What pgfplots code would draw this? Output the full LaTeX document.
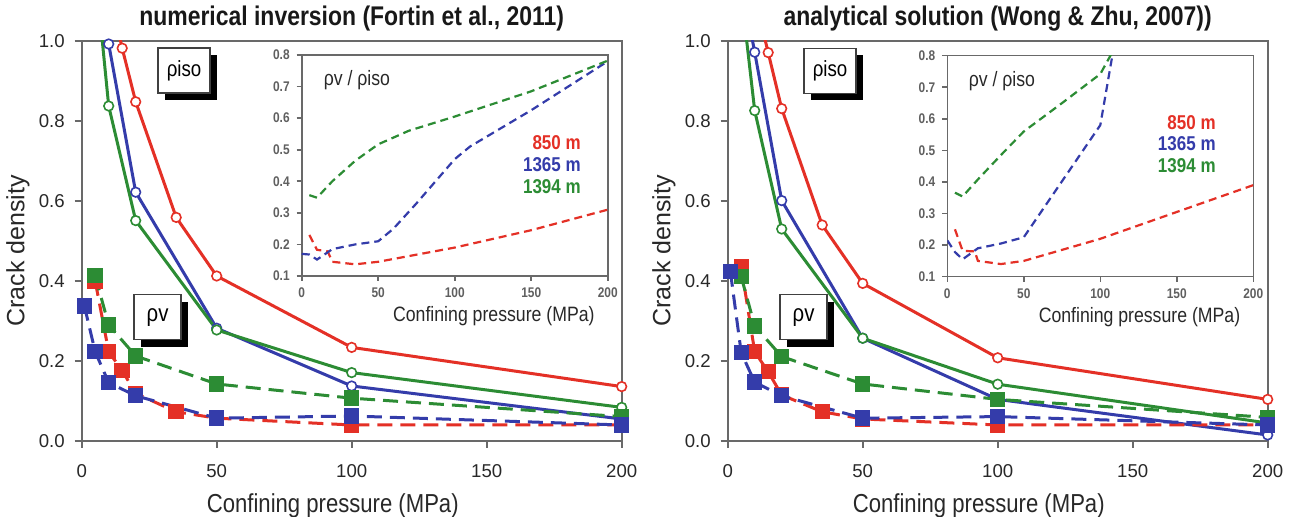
\documentclass[border=0pt]{standalone}
\usepackage{fontspec}
\setmainfont[FakeStretch=0.85]{Liberation Sans}
\newfontfamily\plainsans{Liberation Sans}
\usepackage{pgfplots}
\pgfplotsset{compat=1.18}
\usetikzlibrary{shadows}
\definecolor{cred}{RGB}{228,48,38}
\definecolor{cblue}{RGB}{52,60,170}
\definecolor{cgreen}{RGB}{44,140,52}
\definecolor{axgray}{RGB}{105,105,105}
\definecolor{txtgray}{RGB}{40,40,40}
\tikzset{
  labbox/.style={draw=black!75, line width=0.6pt, fill=white, inner sep=0pt,
    drop shadow={shadow xshift=3.5pt, shadow yshift=-3.5pt, fill=black, opacity=1}},
  ptitle/.style={anchor=base, font=\bfseries\fontsize{13.5}{16}\selectfont, text=txtgray!60!black},
}
\pgfplotsset{
  mainax/.style={scale only axis, width=270pt, height=200pt,
    xmin=0, xmax=200, ymin=0, ymax=1,
    xtick={0,50,100,150,200}, ytick={0,0.2,0.4,0.6,0.8,1.0},
    yticklabel style={/pgf/number format/.cd, fixed, fixed zerofill, precision=1},
    /pgf/number format/assume math mode=true,
    tick align=outside, xtick pos=bottom, ytick pos=left,
    axis line style={axgray, line width=1pt},
    tick style={axgray, line width=1pt}, major tick length=3.5pt,
    ticklabel style={font=\plainsans\fontsize{9.3}{11}\selectfont, text=txtgray},
    xticklabel shift=4.5pt, yticklabel shift=1.5pt,
    label style={font=\fontsize{13}{15}\selectfont, text=txtgray},
    xlabel style={at={(axis description cs:0.465,-0.1625)}, anchor=center},
    ylabel style={font=\plainsans\fontsize{12.5}{14}\selectfont, at={(axis description cs:-0.118,0.475)}, anchor=center},
  },
  insetax/.style={scale only axis, width=153pt, height=110.5pt,
    xmin=0, xmax=200, ymin=0.1, ymax=0.8,
    xtick={0,50,100,150,200}, ytick={0.1,0.2,0.3,0.4,0.5,0.6,0.7,0.8},
    yticklabel style={/pgf/number format/.cd, fixed, fixed zerofill, precision=1},
    /pgf/number format/assume math mode=true,
    tick align=outside, xtick pos=bottom, ytick pos=left,
    axis background/.style={fill=white},
    axis line style={axgray, line width=0.8pt},
    tick style={axgray, line width=0.8pt}, major tick length=2.5pt,
    ticklabel style={font=\bfseries\fontsize{7}{8}\selectfont, text=axgray!90!black},
    xlabel style={font=\fontsize{10.4}{12}\selectfont, text=txtgray, at={(axis description cs:0.628,-0.181)}, anchor=center},
  },
  isoline/.style={line width=1.5pt, mark=*, mark size=2.4pt, mark options={fill=white, line width=0.8pt, solid}},
  vline/.style={line width=1.5pt, dash pattern=on 7.5pt off 4pt, mark=square*, mark size=3.1pt, mark options={solid}},
  rline/.style={line width=1.1pt, dash pattern=on 4pt off 2.5pt},
}
\begin{document}
\begin{tikzpicture}
\useasboundingbox (0,0) rectangle (646pt,258.5pt);
% ---------------- left main
\begin{axis}[mainax, name=L, at={(40.85pt,38pt)}, anchor=south west,
  xlabel={Confining pressure (MPa)}, ylabel={Crack density}]
\addplot[isoline, cred] coordinates {(10,1.13) (15,0.982) (20,0.848) (35,0.559) (50,0.4125) (100,0.234) (200,0.136)};
\addplot[isoline, cblue] coordinates {(5,1.25) (10,0.9925) (20,0.622) (50,0.282) (100,0.1375) (200,0.055)};
\addplot[isoline, cgreen] coordinates {(5,1.18) (10,0.8375) (20,0.551) (50,0.2775) (100,0.171) (200,0.084)};
\addplot[vline, cred] coordinates {(5,0.40) (10,0.223) (15,0.176) (20,0.119) (35,0.073) (50,0.057) (100,0.04) (200,0.04)};
\addplot[vline, cgreen] coordinates {(5,0.413) (10,0.29) (20,0.2125) (50,0.1425) (100,0.107) (200,0.061)};
\addplot[vline, cblue] coordinates {(1,0.3375) (5,0.223) (10,0.146) (20,0.113) (50,0.057) (100,0.0625) (200,0.04)};
\node[labbox, minimum width=26pt, minimum height=22.5pt, font=\fontsize{11}{13}\selectfont] at (axis cs:37.9,0.926) {ρiso};
\node[labbox, minimum width=23.5pt, minimum height=22.5pt, font=\fontsize{12}{14}\selectfont] at (axis cs:28.1,0.309) {ρv};
\end{axis}
\node[ptitle] at ([yshift=7.65pt]L.north) {numerical inversion (Fortin et al., 2011)};
% ---------------- left inset
\begin{axis}[insetax, at={(150.85pt,120.5pt)}, anchor=south west,
  xlabel={Confining pressure (MPa)}]
\addplot[rline, cred] coordinates {(5,0.23) (10,0.183) (17,0.178) (20,0.145) (35,0.137) (50,0.145) (100,0.19) (150,0.245) (200,0.31)};
\addplot[rline, cblue] coordinates {(0,0.17) (5,0.168) (10,0.152) (20,0.185) (35,0.2) (50,0.21) (60,0.25) (75,0.33) (100,0.47) (110,0.51) (150,0.625) (200,0.78)};
\addplot[rline, cgreen] coordinates {(5,0.356) (10,0.348) (20,0.40) (35,0.465) (50,0.517) (70,0.56) (100,0.605) (150,0.685) (200,0.782)};
\node[anchor=west, font=\fontsize{10.4}{12}\selectfont, text=txtgray] at (axis cs:9.8,0.72) {ρv / ρiso};
\node[anchor=east, font=\bfseries\fontsize{10}{12}\selectfont, text=cred] at (axis cs:187,0.521) {850 m};
\node[anchor=east, font=\bfseries\fontsize{10}{12}\selectfont, text=cblue] at (axis cs:187,0.452) {1365 m};
\node[anchor=east, font=\bfseries\fontsize{10}{12}\selectfont, text=cgreen] at (axis cs:187,0.382) {1394 m};
\end{axis}
% ---------------- right main
\begin{axis}[mainax, name=R, at={(363.85pt,38pt)}, anchor=south west,
  xlabel={Confining pressure (MPa)}, ylabel={Crack density}]
\addplot[isoline, cred] coordinates {(10,1.11) (15,0.971) (20,0.831) (35,0.54) (50,0.394) (100,0.208) (200,0.104)};
\addplot[isoline, cblue] coordinates {(5,1.15) (10,0.972) (20,0.601) (50,0.257) (100,0.104) (200,0.015)};
\addplot[isoline, cgreen] coordinates {(5,1.12) (10,0.826) (20,0.53) (50,0.257) (100,0.142) (200,0.045)};
\addplot[vline, cred] coordinates {(5,0.436) (10,0.223) (15,0.173) (20,0.115) (35,0.073) (50,0.055) (100,0.04) (200,0.04)};
\addplot[vline, cgreen] coordinates {(5,0.411) (10,0.2875) (20,0.211) (50,0.1425) (100,0.104) (200,0.059)};
\addplot[vline, cblue] coordinates {(1,0.423) (5,0.221) (10,0.147) (20,0.113) (50,0.057) (100,0.061) (200,0.04)};
\node[labbox, minimum width=26pt, minimum height=22.5pt, font=\fontsize{11}{13}\selectfont] at (axis cs:37.9,0.925) {ρiso};
\node[labbox, minimum width=23.5pt, minimum height=22.5pt, font=\fontsize{12}{14}\selectfont] at (axis cs:28.1,0.309) {ρv};
\end{axis}
\node[ptitle] at ([yshift=7.65pt]R.north) {analytical solution (Wong \& Zhu, 2007))};
% ---------------- right inset
\begin{axis}[insetax, at={(473.65pt,120.15pt)}, anchor=south west,
  xlabel={Confining pressure (MPa)}]
\addplot[rline, cred] coordinates {(5,0.25) (10,0.182) (18,0.18) (20,0.15) (35,0.14) (50,0.15) (100,0.22) (200,0.39)};
\addplot[rline, cblue] coordinates {(0,0.215) (5,0.178) (10,0.155) (20,0.19) (35,0.205) (50,0.225) (100,0.58) (110,0.86)};
\addplot[rline, cgreen] coordinates {(5,0.366) (10,0.354) (20,0.408) (35,0.485) (50,0.56) (75,0.65) (100,0.742) (110,0.83)};
\node[anchor=west, font=\fontsize{10.4}{12}\selectfont, text=txtgray] at (axis cs:9.4,0.72) {ρv / ρiso};
\node[anchor=east, font=\bfseries\fontsize{10}{12}\selectfont, text=cred] at (axis cs:180,0.588) {850 m};
\node[anchor=east, font=\bfseries\fontsize{10}{12}\selectfont, text=cblue] at (axis cs:180,0.521) {1365 m};
\node[anchor=east, font=\bfseries\fontsize{10}{12}\selectfont, text=cgreen] at (axis cs:180,0.452) {1394 m};
\end{axis}
\end{tikzpicture}
\end{document}
